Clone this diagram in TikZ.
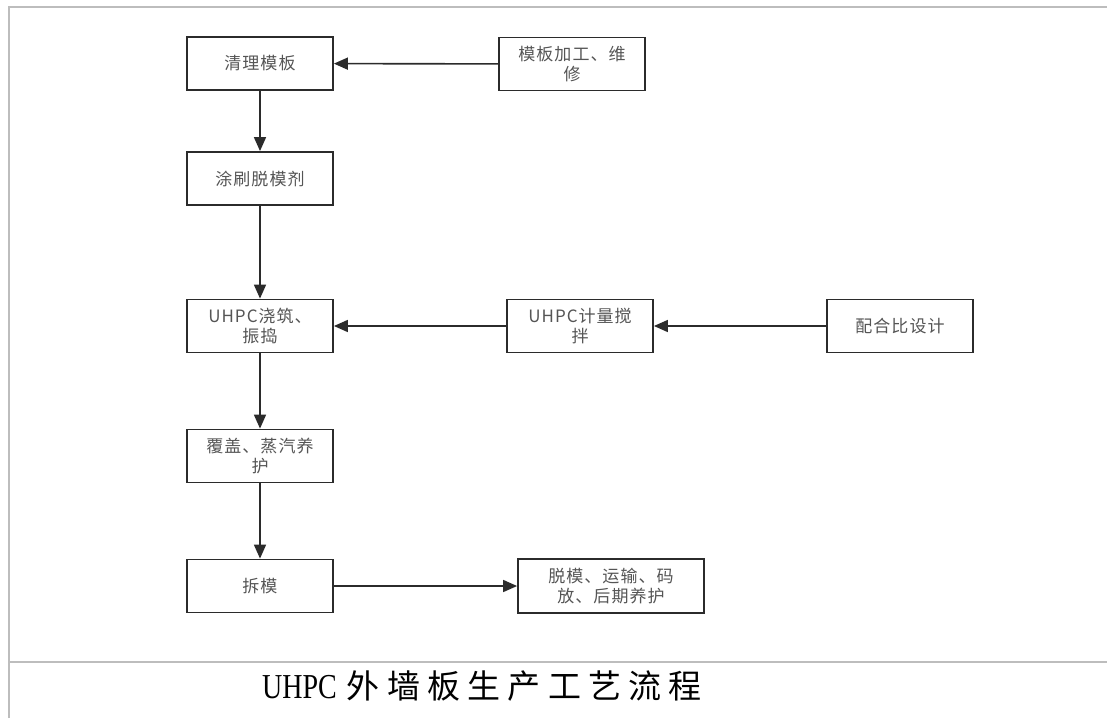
\documentclass[tikz,border=0pt]{standalone}
\usepackage{fontspec}
\usepackage{graphicx}
\usetikzlibrary{arrows.meta}
\setmainfont{Liberation Serif}
\newfontfamily\boxfont[LetterSpace=6]{Noto Sans CJK SC}
\newfontfamily\capcjk[LetterSpace=22]{Noto Sans CJK SC}
\definecolor{frameg}{HTML}{BDBDBD}
\definecolor{boxline}{HTML}{2B2B2B}
\definecolor{boxtext}{HTML}{555555}
\tikzset{
  stepbox/.style={draw=boxline, line width=1.8pt, fill=white, rectangle,
    minimum width=146pt, minimum height=53pt, inner sep=0pt,
    align=center, text=boxtext, font=\boxfont\fontsize{17}{20}\selectfont},
  widebox/.style={stepbox, minimum width=186pt, minimum height=54pt},
  flow/.style={draw=boxline, line width=1.6pt,
    -{Triangle[length=14pt,width=12pt]}},
  frameline/.style={draw=frameg, line width=1.8pt}
}
\begin{document}
\begin{tikzpicture}[x=1pt,y=-1pt]
\useasboundingbox (0,0) rectangle (1107,718);
% frame
\coordinate (tl) at (9,7);
\coordinate (tr) at (1107,7);
\coordinate (bl) at (9,718);
\coordinate (sl) at (9,662);
\coordinate (sr) at (1107,662);
\draw[frameline] (bl) -- (tl) -- (tr);
\draw[frameline] (sl) -- (sr);
% boxes
\node[stepbox] (qingli) at (260,63.5) {清理模板};
\node[stepbox] (jiagong) at (572,64) {模板加工、维\\修};
\node[stepbox] (tushua) at (260,178.5) {涂刷脱模剂};
\node[stepbox] (jiaozhu) at (260,326) {UHPC浇筑、\\振捣};
\node[stepbox] (jiliang) at (580,326) {UHPC计量搅\\拌};
\node[stepbox] (peihe) at (900,326) {配合比设计};
\node[stepbox] (fugai) at (260,456) {覆盖、蒸汽养\\护};
\node[stepbox] (caimo) at (260,586) {拆模};
\node[widebox] (tuomo) at (611,586) {脱模、运输、码\\放、后期养护};
% connectors
\draw[flow] (jiagong) -- (qingli);
\draw[flow] (qingli) -- (tushua);
\draw[flow] (tushua) -- (jiaozhu);
\draw[flow] (jiliang) -- (jiaozhu);
\draw[flow] (peihe) -- (jiliang);
\draw[flow] (jiaozhu) -- (fugai);
\draw[flow] (fugai) -- (caimo);
\draw[flow] (caimo) -- (tuomo);
% caption
\node[anchor=west, inner sep=0pt] (caption) at (262,686)
  {\scalebox{0.8}[1]{\fontsize{35}{35}\selectfont UHPC}\hspace{10pt}{\capcjk\fontsize{33}{33}\selectfont 外墙板生产工艺流程}};
\end{tikzpicture}
\end{document}
